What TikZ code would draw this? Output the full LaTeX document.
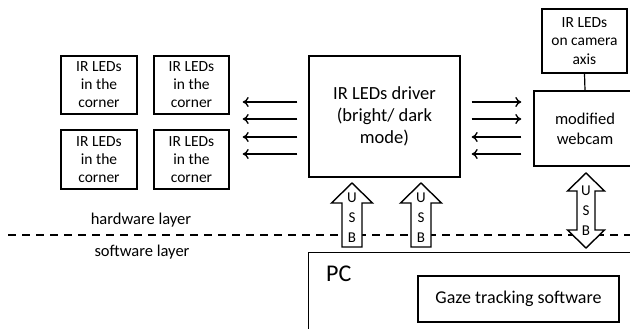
\documentclass[tikz,border=0pt]{standalone}
\usepackage{fontspec}
\setmainfont{Carlito}
\usetikzlibrary{arrows.meta, calc}
\tikzstyle{block} = [draw, line width=1.4pt, align=center, inner sep=0pt]
\tikzstyle{arrow} = [line width=1.3pt, -{To[length=6pt,width=10pt]}]
\tikzstyle{usb} = [draw, line width=1.4pt, fill=white, line join=miter]
\tikzstyle{usbtext} = [align=center, inner sep=0pt, font=\fontsize{15}{20}\selectfont]

\begin{document}
\begin{tikzpicture}[x=1pt, y=-1pt]
\useasboundingbox (0,0) rectangle (630,329);
% LEDs in the corners
\node[block, minimum width=76pt, minimum height=58pt, font=\fontsize{15.5}{18}\selectfont] (c1) at (99,85) {IR LEDs\\in the\\corner};
\node[block, minimum width=75pt, minimum height=58pt, font=\fontsize{15.5}{18}\selectfont] (c2) at (191.5,85) {IR LEDs\\in the\\corner};
\node[block, minimum width=76pt, minimum height=59pt, font=\fontsize{15.5}{18}\selectfont] (c3) at (99,159.5) {IR LEDs\\in the\\corner};
\node[block, minimum width=75pt, minimum height=59pt, font=\fontsize{15.5}{18}\selectfont] (c4) at (191.5,159.5) {IR LEDs\\in the\\corner};
% driver and camera
\node[block, minimum width=151pt, minimum height=121pt, font=\fontsize{18.5}{21.7}\selectfont] (driver) at (384.5,116.5) {IR LEDs driver\\(bright/ dark\\mode)};
\node[block, minimum width=102pt, minimum height=75pt, font=\fontsize{16.5}{20}\selectfont] (webcam) at (585,128.5) {modified\\webcam};
\node[block, minimum width=85pt, minimum height=64pt, font=\fontsize{15.5}{18.5}\selectfont] (camled) at (584.5,41) {IR LEDs\\on camera\\axis};
\draw[line width=1.2pt] (camled.south) -- (webcam.north);
\foreach \y in {102,119,137,154}
    \draw[arrow] ($(driver.west |- 0,\y)+(-11,0)$) -- ($(c2.east |- 0,\y)+(13,0)$);
\foreach \y in {102,119}
    \draw[arrow] ($(driver.east |- 0,\y)+(11,0)$) -- ($(webcam.west |- 0,\y)+(-12,0)$);
\foreach \y in {137,154}
    \draw[arrow] ($(webcam.west |- 0,\y)+(-12,0)$) -- ($(driver.east |- 0,\y)+(11,0)$);
% layers
\node[font=\fontsize{16.5}{20}\selectfont] (hw) at (141,220) {hardware layer};
\node[font=\fontsize{16.5}{20}\selectfont] (sw) at (142,252) {software layer};
\draw[line width=1.5pt, dash pattern=on 8pt off 6pt] (8,235) -- (632,235);
% PC
\node[block, minimum width=340pt, minimum height=100pt, anchor=north west] (pc) at (308,252) {};
\node[anchor=west, inner sep=0pt, font=\fontsize{24}{28}\selectfont] (pctext) at (326,274) {PC};
\node[block, minimum width=201pt, minimum height=46pt, font=\fontsize{18}{21}\selectfont] (gaze) at (518.5,299) {Gaze tracking software};
% USB links
\foreach \x in {352,421}
    \draw[usb] (\x,183) -- (\x+20.5,203) -- (\x+10,203) -- (\x+10,247) -- (\x-10,247) -- (\x-10,203) -- (\x-20.5,203) -- cycle;
\draw[usb] (586,173) -- (604.5,191) -- (595,191) -- (595,230) -- (604.5,230) -- (586,248) -- (567.5,230) -- (577,230) -- (577,191) -- (567.5,191) -- cycle;
\node[usbtext] (usbA) at (352,218) {U\\S\\B};
\node[usbtext] (usbB) at (421,218) {U\\S\\B};
\node[usbtext] (usbC) at (586,211) {U\\S\\B};
\end{tikzpicture}
\end{document}
